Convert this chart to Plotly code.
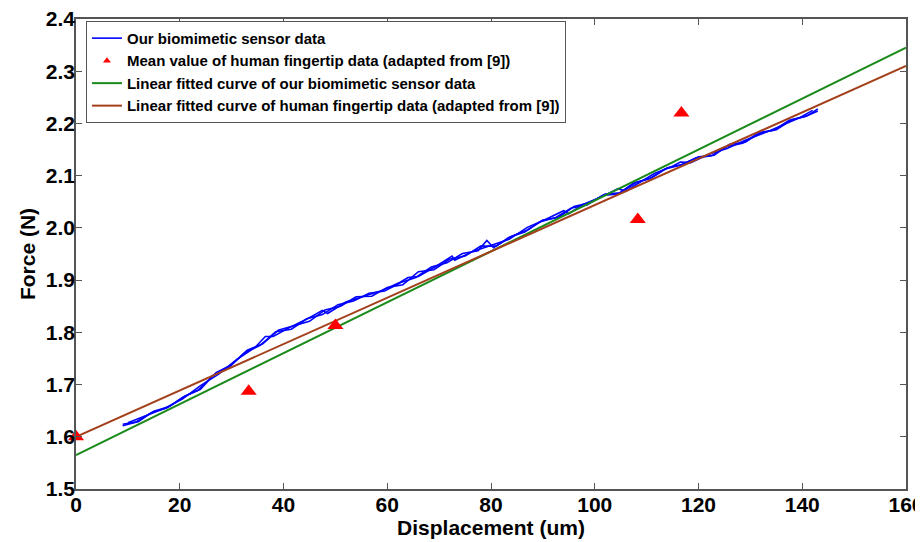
import plotly.graph_objects as go

# sensor data, first loading pass (um, N)
sensor_x_a = [9, 12, 15, 18, 21, 24, 27, 30, 33, 36, 39, 42, 45, 48, 51, 54, 57, 60,
              63, 66, 69, 72, 75, 78, 81, 84, 87, 90, 93, 96, 99, 102, 105, 108, 111,
              114, 117, 120, 123, 126, 129, 132, 135, 138, 141, 143]
sensor_y_a = [1.624, 1.629, 1.649, 1.658, 1.678, 1.691, 1.723, 1.738, 1.766, 1.778,
              1.804, 1.812, 1.821, 1.843, 1.850, 1.868, 1.869, 1.886, 1.891, 1.916,
              1.920, 1.940, 1.946, 1.965, 1.965, 1.984, 1.996, 2.015, 2.020, 2.041,
              2.048, 2.065, 2.067, 2.087, 2.096, 2.115, 2.122, 2.136, 2.139, 2.160,
              2.164, 2.183, 2.188, 2.207, 2.215, 2.228]

# sensor data, unloading pass
sensor_x_b = [143, 140.5, 137.5, 134.5, 131.5, 128.5, 125.5, 122.5, 119.5, 116.5, 113.5,
              110.5, 107.5, 104.5, 101.5, 98.5, 95.5, 92.5, 89.5, 86.5, 83.5, 80.5, 79.2,
              77.5, 74.5, 71.5, 68.5, 65.5, 62.5, 59.5, 56.5, 53.5, 50.5, 47.5, 44.5,
              41.5, 38.5, 35.5, 32.5, 29.5, 26.5, 23.5, 20.5, 17.5, 14.5, 11.5, 9]
sensor_y_b = [2.224, 2.213, 2.206, 2.187, 2.181, 2.162, 2.156, 2.138, 2.134, 2.120, 2.113,
              2.094, 2.086, 2.065, 2.062, 2.044, 2.038, 2.020, 2.012, 1.992, 1.982, 1.962,
              1.976, 1.956, 1.951, 1.933, 1.925, 1.905, 1.895, 1.879, 1.875, 1.860, 1.853,
              1.834, 1.826, 1.806, 1.801, 1.775, 1.761, 1.733, 1.718, 1.689, 1.675, 1.655,
              1.646, 1.628, 1.621]

# sensor data, second loading pass
sensor_x_c = [10, 13.5, 17, 20.5, 24, 27.5, 31, 34.5, 36.5, 38, 41.5, 45, 47.5, 48.5, 52,
              55.5, 59, 62.5, 64, 66, 69.5, 72.5, 73, 76.5, 80, 83.5, 87, 90.5, 94, 95,
              97.5, 101, 104.5, 106, 108, 111.5, 115, 116.5, 118.5, 122, 125.5, 129,
              132.5, 136, 139.5, 142]
sensor_y_c = [1.627, 1.640, 1.654, 1.672, 1.698, 1.720, 1.748, 1.771, 1.792, 1.792, 1.811,
              1.828, 1.842, 1.836, 1.858, 1.869, 1.880, 1.896, 1.905, 1.907, 1.927, 1.946,
              1.938, 1.955, 1.966, 1.978, 2.001, 2.016, 2.033, 2.027, 2.044, 2.058, 2.075,
              2.070, 2.083, 2.104, 2.118, 2.126, 2.125, 2.141, 2.152, 2.168, 2.181, 2.196,
              2.211, 2.225]

# human fingertip means
human_x = [0, 33.3, 50, 108.3, 116.7]
human_y = [1.600, 1.687, 1.813, 2.016, 2.220]

# fitted lines (end points)
fit_x = [0, 160]
fit_sensor_y = [1.565, 2.345]
fit_human_y = [1.600, 2.310]

BLUE = "#0000ff"
GREEN = "#1a8a1a"
BROWN = "#a3401c"
RED = "#ff0000"
FRAME = "#555555"

fig = go.Figure()
for i, (sx, sy) in enumerate([(sensor_x_a, sensor_y_a),
                              (sensor_x_b, sensor_y_b),
                              (sensor_x_c, sensor_y_c)]):
    fig.add_trace(go.Scatter(
        x=sx, y=sy, mode="lines",
        line={"color": BLUE, "width": 1.6},
        name="Our biomimetic sensor data", legendgroup="s",
        showlegend=(i == 0)
    ))
# legend entry for the triangles (small marker like the original)
fig.add_trace(go.Scatter(
    x=[None], y=[None], mode="markers",
    marker={"color": RED, "symbol": "triangle-up", "size": 7},
    name="Mean value of human fingertip data (adapted from [9])"
))
fig.add_trace(go.Scatter(
    x=fit_x, y=fit_sensor_y, mode="lines",
    line={"color": GREEN, "width": 2},
    name="Linear fitted curve of our biomimetic sensor data"
))
fig.add_trace(go.Scatter(
    x=fit_x, y=fit_human_y, mode="lines",
    line={"color": BROWN, "width": 2},
    name="Linear fitted curve of human fingertip data (adapted from [9])"
))
fig.add_trace(go.Scatter(
    x=human_x, y=human_y, mode="markers",
    marker={"color": RED, "symbol": "triangle-up", "size": 14},
    showlegend=False, cliponaxis=False
))

axis_font = {"family": "Liberation Sans", "size": 21, "color": "black"}

# the page body adds an 8px offset, so the figure is 8px smaller
fig.update_layout(
    width=915, height=534,
    margin={"l": 68, "r": 17, "t": 11, "b": 53},
    plot_bgcolor="white", paper_bgcolor="white",
    font={"family": "Liberation Sans", "color": "black"},
    legend={
        "x": 0.012, "y": 0.996, "xanchor": "left", "yanchor": "top",
        "bgcolor": "white", "bordercolor": FRAME, "borderwidth": 1,
        "font": {"family": "Liberation Sans", "size": 15, "color": "black", "weight": "bold"},
        "tracegroupgap": 0, "itemwidth": 30,
        "traceorder": "normal"
    },
    xaxis={
        "range": [0, 160], "tickmode": "array",
        "tickvals": [0, 20, 40, 60, 80, 100, 120, 140, 160],
        "ticks": "inside", "ticklen": 6, "tickcolor": FRAME,
        "showline": True, "linecolor": FRAME, "linewidth": 1.5, "mirror": "ticks",
        "showgrid": False, "zeroline": False, "automargin": False,
        "ticklabelstandoff": -4, "ticklabeloverflow": "allow",
        "tickfont": {**axis_font, "weight": "bold"},
        "title": {"text": "<b>Displacement (um)</b>", "font": axis_font, "standoff": 0}
    },
    yaxis={
        "range": [1.5, 2.4], "tickmode": "array",
        "tickvals": [1.5, 1.6, 1.7, 1.8, 1.9, 2.0, 2.1, 2.2, 2.3, 2.4],
        "tickformat": ".1f",
        "ticks": "inside", "ticklen": 6, "tickcolor": FRAME,
        "showline": True, "linecolor": FRAME, "linewidth": 1.5, "mirror": "ticks",
        "showgrid": False, "zeroline": False, "automargin": False,
        "ticklabelstandoff": -5, "ticklabeloverflow": "allow",
        "tickfont": {**axis_font, "weight": "bold"},
        "title": {"text": "<b>Force (N)</b>", "font": axis_font, "standoff": 4}
    }
)

fig.write_html("out.html")
